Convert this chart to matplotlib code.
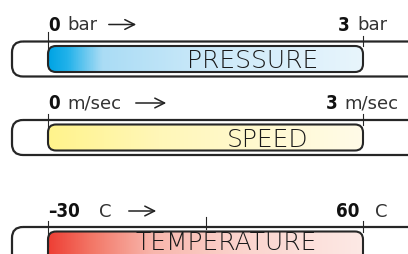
import matplotlib
matplotlib.use('Agg')
import numpy as np
import matplotlib.pyplot as plt
from matplotlib.patches import FancyBboxPatch
from matplotlib.colors import LinearSegmentedColormap

# gauge data
names = ['PRESSURE', 'SPEED', 'TEMPERATURE']
vmin = [0, 0, -30]
vmax = [3, 3, 60]
units = ['bar', 'm/sec', 'C']
min_labels = ['0', '0', '–30']
max_labels = ['3', '3', '60']
extra_ticks = [[], [], [15]]

# layout (pixel coords, y downwards)
outer_top = [42.5, 121.0, 228.0]
outer_h = [35, 35, 60]      # last one runs off the bottom
label_y = [25.5, 104, 212]
title_x = [253, 268, 226]
title_base = [68.5, 147, 250.5]
unit_left_x = [67, 67, 99]
arrow_x = [(106, 139), (133, 169), (126, 159)]
num_right_end = [350, 338, 359]
unit_right_x = [357, 344, 375]
x0, x1 = 48, 363
dark = '#262626'

grads = [
    [(0.0, '#00a4e4'), (0.06, '#22b2ea'), (0.17, '#aadcf5'), (0.5, '#cbe9f9'), (1.0, '#e8f5fc')],
    [(0.0, '#fff38c'), (0.35, '#fff7b8'), (1.0, '#fffbe8')],
    [(0.0, '#ee3f35'), (0.14, '#f37868'), (0.33, '#f8b6ac'), (0.6, '#fbd3cc'), (1.0, '#fde9e5')],
]

fig = plt.figure(figsize=(4.08, 2.55), dpi=100)
ax = fig.add_axes([0, 0, 1, 1])
ax.set_xlim(0, 408)
ax.set_ylim(255, 0)
ax.axis('off')

for i in range(len(names)):
    top = outer_top[i]
    # outer rounded frame, running off the right edge
    outer = FancyBboxPatch((12, top), 430, outer_h[i], boxstyle='round,pad=0,rounding_size=11',
                           fc='none', ec=dark, lw=1.6)
    ax.add_patch(outer)

    # inner gradient bar
    itop = top + 4.5
    ih = outer_h[i] - 9
    inner = FancyBboxPatch((x0, itop), x1 - x0, ih, boxstyle='round,pad=0,rounding_size=8',
                           fc='none', ec=dark, lw=1.5, zorder=3)
    ax.add_patch(inner)
    cmap = LinearSegmentedColormap.from_list('g%d' % i, grads[i])
    img = ax.imshow(np.linspace(0, 1, 400)[None, :], cmap=cmap, aspect='auto',
                    extent=[x0, x1, itop + ih, itop], zorder=2)
    img.set_clip_path(inner)

    # ticks along the scale
    def vx(v):
        return x0 + (v - vmin[i]) / (vmax[i] - vmin[i]) * (x1 - x0)
    ax.plot([vx(vmin[i])] * 2, [top - (10 if i == 0 else 6), itop + 14], color=dark, lw=0.8, zorder=4)
    ax.plot([vx(vmax[i])] * 2, [top - 6, itop], color=dark, lw=0.8, zorder=4)
    for t in extra_ticks[i]:
        ax.plot([vx(t)] * 2, [top - 10, top + 2], color=dark, lw=0.8, zorder=4)

    # scale labels
    ax.text(x0, label_y[i], min_labels[i], ha='left', va='center', fontsize=13.5,
            fontweight='bold', fontstretch='condensed', color='#111111')
    ax.text(unit_left_x[i], label_y[i], units[i], ha='left', va='center', fontsize=13, color='#333333')
    ax.annotate('', xy=(arrow_x[i][1], label_y[i]), xytext=(arrow_x[i][0], label_y[i]),
                arrowprops=dict(arrowstyle='->,head_length=0.7,head_width=0.35', color='#222222', lw=1.1))
    ax.text(num_right_end[i], label_y[i], max_labels[i], ha='right', va='center', fontsize=13.5,
            fontweight='bold', fontstretch='condensed', color='#111111')
    ax.text(unit_right_x[i], label_y[i], units[i], ha='left', va='center', fontsize=13, color='#333333')

    # gauge name
    ax.text(title_x[i], title_base[i], names[i], ha='center', va='baseline', fontsize=18,
            fontweight='light', color='#1a1a1a', zorder=5)

fig.savefig('out.png', dpi=100)
